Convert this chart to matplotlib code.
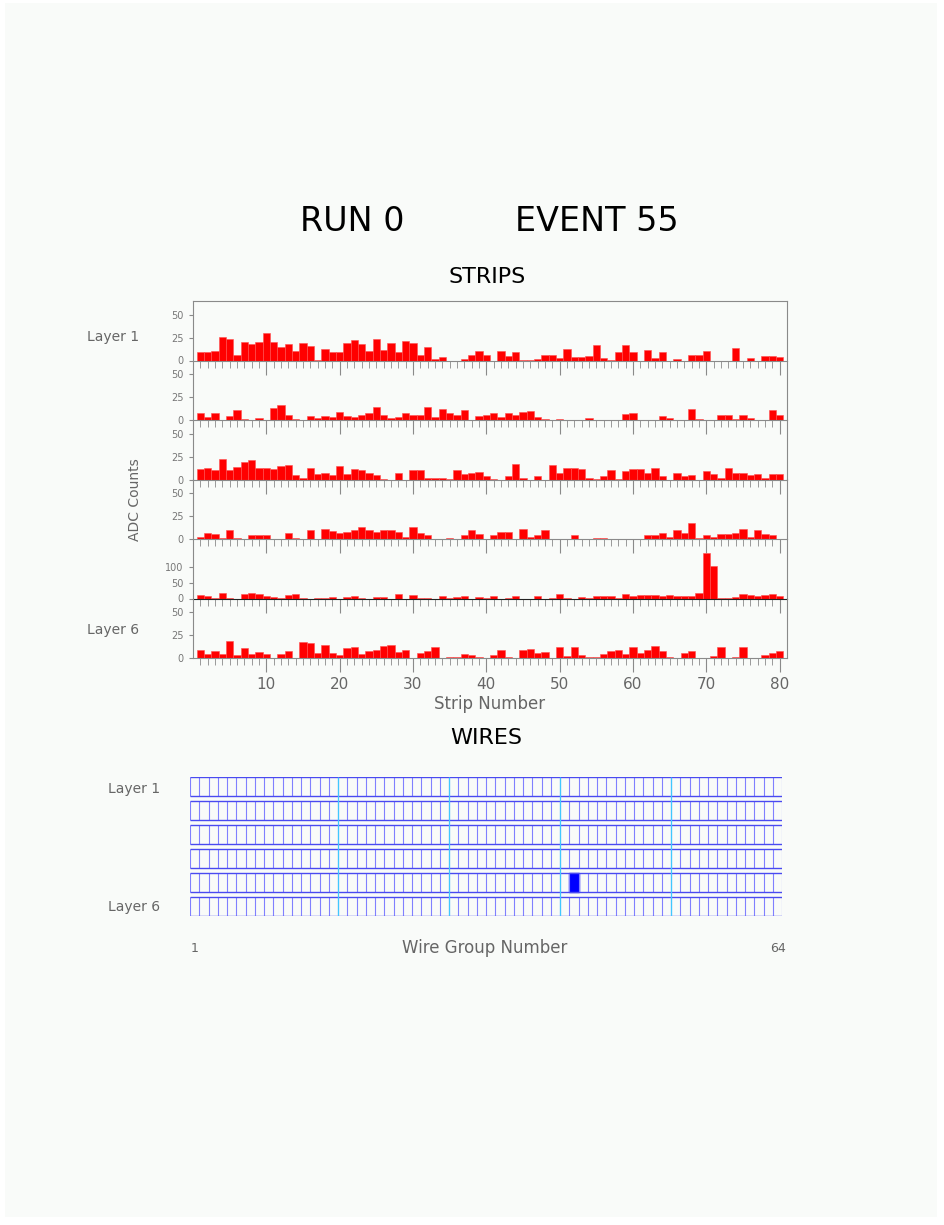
import matplotlib
matplotlib.use('Agg')
import matplotlib.pyplot as plt
from matplotlib.patches import Rectangle
import numpy as np

W, H = 944, 1225

run_number = 0
event_number = 55

strips = np.arange(1, 81)

layer1 = [9, 9, 10, 26, 23, 6, 20, 18, 20, 30, 20, 15, 18, 10, 19, 16, 1, 13, 9, 9,
          19, 22, 18, 10, 24, 12, 19, 9, 21, 19, 6, 15, 2, 4, 0, 0, 2, 6, 10, 6,
          0, 10, 5, 9, 1, 1, 2, 6, 6, 3, 13, 4, 4, 5, 17, 3, 1, 9, 17, 9,
          0, 12, 3, 9, 0, 2, 0, 6, 6, 10, 0, 0, 0, 14, 0, 3, 0, 5, 5, 4]
layer2 = [8, 3, 8, -1, 4, 11, 1, 0, 2, 0, 13, 16, 5, 1, 0, 4, 2, 4, 3, 9,
          4, 3, 5, 8, 14, 6, 2, 3, 8, 6, 6, 14, 3, 12, 8, 5, 11, 0, 4, 5,
          8, 3, 8, 6, 9, 10, 3, 1, 0, 1, 0, -1, 0, 2, 0, 0, 0, 0, 7, 8,
          0, 0, -0.5, 4, 2, 0, 0, 12, 1, 0, 0, 6, 6, 1, 6, 2, 0, 0, 11, 6]
layer3 = [12, 13, 10, 22, 10, 14, 19, 21, 13, 13, 12, 15, 16, 5, 2, 13, 6, 7, 4.5, 15,
          6, 12, 10, 7, 5, 1, 0, 7, 0, 10, 10, 2, 1.5, 1.5, 1, 10, 6, 7.5, 8.5, 4,
          1, 0, 4, 17, 1.5, 0, 4, 0, 16, 7.5, 13, 13, 12, 1.5, 1, 4, 10, 1, 9, 12,
          11, 7, 13, 4, 0, 7.5, 4, 4.5, 0, 9, 6, 1.5, 13, 7.5, 7, 4.5, 5.5, 1.5, 5.5, 5.5]
layer4 = [2, 7, 5.5, 1.5, 10, 1.5, 0, 4, 4, 4, 0, -1, 7, 1.5, 0, 10, 0, 11, 9, 7,
          7.5, 10, 13.5, 10, 7.5, 10, 10, 8, 2, 13, 7, 4, 0, 0, 1.5, 0, 4.5, 10, 5.5, 0,
          4.5, 8, 7.5, 0, 11, 2, 4, 10, -0.5, 0, 0, 4, 0, -0.5, 1, 1, 0, 0, 0, 0,
          0, 4.5, 4.5, 7, 2, 10, 7, 17.5, 1, 4, 2, 5, 5, 7, 11, 2, 10, 5, 4, 0]
layer5 = [10.6, 6.4, 2, 17, 3, 0, 13, 18, 14, 8.5, 5, 3, 10.6, 13, 2, 0, 1, 1, 4, 0,
          4, 8.5, 3, 0, 5, 4, 0, 13, 0, 9.6, 3, 2, 0, 6.4, 2, 4, 8.5, 0, 5, 2,
          6.4, 0, 3, 6.4, 0, 0, 8.5, 0, 2, 13, 3, 0, 5, 3, 8.5, 6.4, 8.5, 3, 13, 6.4,
          10.6, 9.6, 9.6, 8.5, 10.6, 8.5, 8.5, 8.5, 17, 146, 104, 1, 1, 5, 13, 10.6, 8.5, 10.6, 12.8, 8.5]
layer6 = [9, 4.5, 7.5, 4.5, 19, 3, 11, 4.5, 6.5, 4.5, 0, 4.5, 8, 0, 17, 16, 5.5, 14, 5.5, 3.3,
          11, 11.5, 4.5, 7.5, 9, 13.5, 14, 6.5, 9, 0, 5.5, 7.5, 11.5, 0, 1.5, 1.5, 4.5, 3, 1, 0,
          3, 8.5, 1.5, 0, 8.5, 9.5, 5.5, 6.5, 0, 11.5, 2, 11.5, 3, 1.5, 1.5, 4.5, 7.5, 8.5, 4.5, 12,
          5.5, 8.5, 13.5, 7.5, 1.5, 0, 5, 7.5, 0, 0, 2, 11.5, 0, 1, 11.5, 0, 0, 3, 5, 7.5]
strip_layers = [layer1, layer2, layer3, layer4, layer5, layer6]

n_wire_groups = 64
n_layers = 6
hit_layers = [5]
hit_wires = [42]
guide_wires = [16, 28, 40, 52]

grey = '#666666'
frame = '#8a8a8a'


def px_axes(fig, x0, y0, x1, y1):
	return fig.add_axes([x0 / W, 1 - y1 / H, (x1 - x0) / W, (y1 - y0) / H])


fig = plt.figure(figsize=(W / 100, H / 100), dpi=100)
fig.patch.set_facecolor('white')
fig.patches.append(Rectangle((5 / W, 8 / H), 932 / W, 1214 / H, transform=fig.transFigure,
                             facecolor='#f9fbf9', edgecolor='none', zorder=-10))

fig.text(352 / W, 1 - 222 / H, 'RUN %d' % run_number, ha='center', va='center', fontsize=24, color='black')
fig.text(597 / W, 1 - 222 / H, 'EVENT %d' % event_number, ha='center', va='center', fontsize=24, color='black')
fig.text(487 / W, 1 - 277 / H, 'STRIPS', ha='center', va='center', fontsize=16, color='black')
fig.text(486 / W, 1 - 738 / H, 'WIRES', ha='center', va='center', fontsize=16, color='black')

# strip panels
top, bottom = 301, 658
ph = (bottom - top) / 6.0
axes = []
for i, vals in enumerate(strip_layers):
	y0 = top + i * ph
	ax = px_axes(fig, 193, y0, 787, y0 + ph)
	ax.set_facecolor('none')
	ax.bar(strips, vals, width=1.0, color='#ff0000', edgecolor='#ff5050', linewidth=0.4)
	ymax = 1.3 * max(50, max(vals))
	ax.set_ylim(0, ymax)
	ax.set_xlim(0, 81)
	if max(vals) > 60:
		ax.set_yticks([0, 50, 100])
	else:
		ax.set_yticks([0, 25, 50])
	ax.tick_params(axis='y', direction='out', length=3, color=frame, labelsize=7,
	               labelcolor='#777777', pad=4)
	ax.set_xticks(np.arange(10, 81, 10))
	ax.set_xticks(np.arange(1, 81), minor=True)
	ax.tick_params(axis='x', which='major', direction='out', length=10, color=frame, width=0.8)
	ax.tick_params(axis='x', which='minor', direction='out', length=5, color=frame, width=0.6)
	for s in ['left', 'right', 'bottom', 'top']:
		ax.spines[s].set_color(frame)
		ax.spines[s].set_linewidth(0.8)
	if i > 0:
		ax.spines['top'].set_visible(False)
	if max(vals) > 60:
		ax.spines['bottom'].set_color('#222222')
	if i < 5:
		ax.set_xticklabels([])
	else:
		ax.tick_params(axis='x', which='major', labelsize=11, labelcolor=grey, pad=4)
		ax.set_xlabel('Strip Number', fontsize=12, color=grey, labelpad=2)
	axes.append(ax)

fig.text(113 / W, 1 - 337 / H, 'Layer 1', ha='center', va='center', fontsize=10, color=grey)
fig.text(113 / W, 1 - 630 / H, 'Layer 6', ha='center', va='center', fontsize=10, color=grey)
fig.text(135 / W, 1 - 500 / H, 'ADC Counts', ha='center', va='center', fontsize=10, color=grey, rotation=90)

# wire grid
wx = px_axes(fig, 190, 777, 782, 916)
wx.set_facecolor('none')
row_h = 19 / 24.0
wx.set_xlim(0, n_wire_groups)
wx.set_ylim(n_layers - 1 + row_h, 0)
wx.axis('off')
for r in range(n_layers):
	wx.vlines(np.arange(0, n_wire_groups + 1), r, r + row_h, color='#8080ff', linewidth=0.8)
	wx.hlines([r, r + row_h], 0, n_wire_groups, color='#4a4af0', linewidth=1.0)
for g in guide_wires:
	wx.vlines(g, 0, n_layers - 1 + row_h, color='#40c8ff', linewidth=0.9)
for l, w in zip(hit_layers, hit_wires):
	wx.add_patch(Rectangle((w - 1, l - 1), 1, row_h, facecolor='#0000ff', edgecolor='#0000ff'))

fig.text(134 / W, 1 - 789 / H, 'Layer 1', ha='center', va='center', fontsize=10, color=grey)
fig.text(134 / W, 1 - 907 / H, 'Layer 6', ha='center', va='center', fontsize=10, color=grey)
fig.text(195 / W, 1 - 949 / H, '1', ha='center', va='center', fontsize=9, color=grey)
fig.text(778 / W, 1 - 949 / H, '64', ha='center', va='center', fontsize=9, color=grey)
fig.text(485 / W, 1 - 948 / H, 'Wire Group Number', ha='center', va='center', fontsize=12, color=grey)

fig.savefig('out.png', dpi=100, facecolor=fig.get_facecolor())
